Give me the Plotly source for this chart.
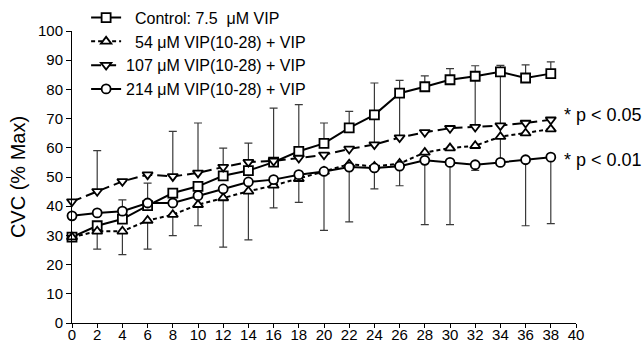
import plotly.graph_objects as go

# ---------------- data ----------------
minutes = [0, 2, 4, 6, 8, 10, 12, 14, 16, 18, 20, 22, 24, 26, 28, 30, 32, 34, 36, 38]

control = [29.4, 33.3, 35.6, 40.2, 44.5, 46.8, 50.4, 52.2, 55.1, 58.8,
           61.5, 66.8, 71.3, 78.7, 80.9, 83.3, 84.5, 86.0, 83.9, 85.4]
vip54 = [29.4, 31.4, 31.4, 35.1, 37.1, 40.5, 42.8, 45.1, 47.1, 49.4,
         51.9, 54.4, 53.6, 54.6, 58.4, 59.9, 60.7, 63.8, 65.0, 66.4]
vip107 = [41.6, 45.1, 48.5, 50.8, 50.2, 51.4, 53.4, 55.1, 55.5, 56.5,
          57.6, 59.6, 61.1, 63.5, 65.3, 66.7, 67.1, 67.6, 68.5, 69.6]
vip214 = [36.7, 37.7, 38.3, 41.1, 41.1, 43.6, 45.9, 48.3, 49.1, 50.8,
          51.9, 53.4, 53.1, 53.7, 55.7, 55.0, 54.2, 55.0, 55.9, 56.8]

# one-sided SD bars (upper, lower) as drawn in the figure
control_up = [0, 0, 0, 0, 0, 0, 0, 0, 18.5, 16.0, 7.0, 5.7, 0, 0, 3.7, 3.8, 0, 2.2, 4.5, 4.0]
control_dn = [0, 0, 0, 0, 0, 0, 0, 0, 0, 0, 0, 0, 0, 0, 0, 0, 0, 31.0, 0, 0]
vip54_up = [0] * 20
vip54_dn = [0, 6.1, 8.0, 9.8, 7.2, 7.2, 16.8, 16.6, 7.7, 8.1, 0, 0, 0, 0, 0, 0, 0, 0, 0, 0]
vip107_up = [0, 13.9, 0, 0, 15.4, 17.1, 6.5, 6.5, 0, 0, 0, 0, 21.1, 19.6, 0, 0, 21.0, 0, 0, 0]
vip107_dn = [0] * 20
vip214_up = [0, 0, 3.9, 6.8, 0, 0, 0, 0, 0, 0, 0, 0, 0, 0, 0, 0, 0, 0, 0, 0]
vip214_dn = [0, 0, 0, 0, 0, 0, 0, 0, 0, 0, 20.2, 18.8, 7.2, 6.7, 22.0, 21.3, 1.9, 0, 22.6, 22.8]

names = ["\u00a0\u00a0Control: 7.5\u00a0\u00a0\u03bcM VIP",
         "\u00a0\u00a054 \u03bcM VIP(10-28) + VIP",
         "107 \u03bcM VIP(10-28) + VIP",
         "214 \u03bcM VIP(10-28) + VIP"]
x_ticks = list(range(0, 41, 2))
y_ticks = list(range(0, 101, 10))

FONT = "Arial, Liberation Sans, sans-serif"

series = [
    (control, control_up, control_dn, "square", "solid"),
    (vip54, vip54_up, vip54_dn, "triangle-up", "4px,3px"),
    (vip107, vip107_up, vip107_dn, "triangle-down", "10px,5px"),
    (vip214, vip214_up, vip214_dn, "circle", "solid"),
]

fig = go.Figure()

# error bars first (behind all markers)
for vals, up, dn, sym, dash in series:
    fig.add_trace(go.Scatter(
        x=minutes, y=vals, mode="markers",
        marker=dict(size=1, opacity=0),
        error_y=dict(type="data", symmetric=False, array=up, arrayminus=dn,
                     color="#3a3a3a", thickness=1.2, width=4),
        showlegend=False, hoverinfo="skip", cliponaxis=False))

for (vals, up, dn, sym, dash), nm in zip(series, names):
    fig.add_trace(go.Scatter(
        x=minutes, y=vals, mode="lines+markers", name=nm,
        line=dict(color="black", width=2, dash=dash),
        marker=dict(symbol=sym, size=9, color="white",
                    line=dict(color="black", width=1.8)),
        cliponaxis=False))

fig.update_layout(
    width=643, height=345,
    margin=dict(l=72, r=67, t=31, b=22, autoexpand=False),
    paper_bgcolor="white", plot_bgcolor="white",
    font=dict(family=FONT, color="black", size=15),
    showlegend=True,
    legend=dict(x=0.028, y=1.104, xanchor="left", yanchor="top",
                bgcolor="rgba(0,0,0,0)", font=dict(size=16, family=FONT),
                tracegroupgap=0),
    xaxis=dict(range=[0, 40], tickvals=x_ticks, ticks="outside", ticklen=4,
               tickwidth=1, tickcolor="black", showline=True, linecolor="black",
               linewidth=1, showgrid=False, zeroline=False,
               ticklabelstandoff=-6,
               tickfont=dict(size=15, family=FONT)),
    yaxis=dict(range=[0, 100], tickvals=y_ticks, ticks="outside", ticklen=5,
               tickwidth=1, tickcolor="black", showline=True, linecolor="black",
               linewidth=1, showgrid=False, zeroline=False,
               tickfont=dict(size=15, family=FONT)),
    annotations=[
        dict(text="CVC (% Max)", textangle=-90, xref="paper", yref="paper",
             x=-0.107, y=0.50, xanchor="center", yanchor="middle",
             showarrow=False, font=dict(size=20, family=FONT)),
        dict(text="* p < 0.05", xref="x", yref="y", x=38.9, y=71.3,
             xanchor="left", yanchor="middle", showarrow=False,
             font=dict(size=18, family=FONT)),
        dict(text="* p < 0.01", xref="x", yref="y", x=38.9, y=55.9,
             xanchor="left", yanchor="middle", showarrow=False,
             font=dict(size=18, family=FONT)),
    ],
)

fig.write_html("out.html")
